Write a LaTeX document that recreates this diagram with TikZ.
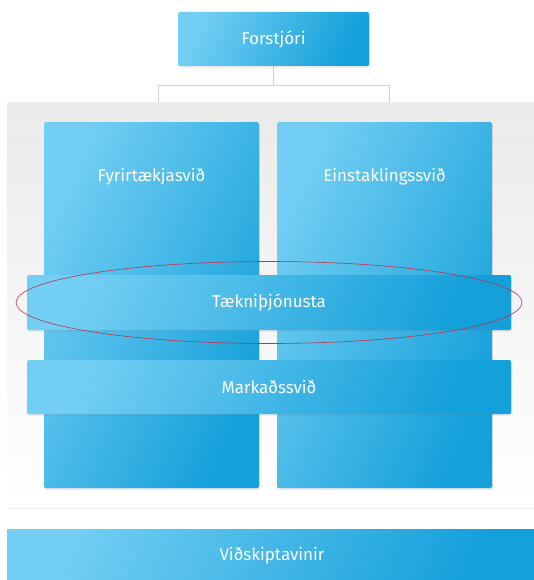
\documentclass[tikz,border=0pt]{standalone}
\usepackage{fontspec}
\setmainfont{Fira Sans}
\usetikzlibrary{shadows}
\definecolor{bluelight}{RGB}{114,206,243}
\definecolor{bluedark}{RGB}{20,160,218}
\definecolor{ringred}{RGB}{196,48,72}
\pgfdeclarelayer{back}
\pgfdeclarelayer{mid}
\pgfsetlayers{back,mid,main}

\begin{document}
\begin{tikzpicture}[x=1pt, y=-1pt,
		box/.style={rectangle, rounded corners=1.5pt, inner sep=0pt, text=white,
			font=\fontsize{17}{20}\selectfont,
			left color=bluelight, right color=bluedark, shading angle=65,
			drop shadow={opacity=0.18, shadow xshift=0.8pt, shadow yshift=-1.6pt}},
		band/.style={box, minimum width=484, minimum height=55},
		column/.style={box, anchor=north, minimum width=215, text height=59, text depth=307},
		link/.style={draw=gray!35, line width=0.8pt}]
	% Bildbereich
	\useasboundingbox (0,0) rectangle (534,580);
	% Spitze
	\node[box, minimum width=191, minimum height=54] (forstjori) at (273.5,39) {Forstjóri};
	% Saeulen
	\node[column] (fyrirtaeki) at (151.5,122) {Fyrirtækjasvið};
	\node[column] (einstakl) at (384.5,122) {Einstaklingssvið};
	% Querbalken
	\node[band] (taekni) at (269,302.5) {Tækniþjónusta};
	\node[band, minimum height=54] (markad) at (269,387) {Markaðssvið};
	\node[box, rounded corners=0pt, minimum width=530, minimum height=54] (vidskipta) at (272,556) {Viðskiptavinir};
	% Hintergrund
	\begin{pgfonlayer}{mid}
		\node[rectangle, minimum width=530, minimum height=404, top color=gray!16, bottom color=white,
			drop shadow={opacity=0.12, shadow xshift=0pt, shadow yshift=-2pt}] (panel) at (272,305) {};
	\end{pgfonlayer}
	% Verbindungen
	\begin{pgfonlayer}{back}
		\draw[link] (forstjori.south) -- ++(0,19) -| ([xshift=6.5pt]fyrirtaeki.north);
		\draw[link] (forstjori.south) -- ++(0,19) -| ([xshift=4.5pt]einstakl.north);
	\end{pgfonlayer}
	% Markierung
	\draw[ringred, line width=0.6pt] (taekni.center) ellipse [x radius=253, y radius=41];
\end{tikzpicture}
\end{document}
